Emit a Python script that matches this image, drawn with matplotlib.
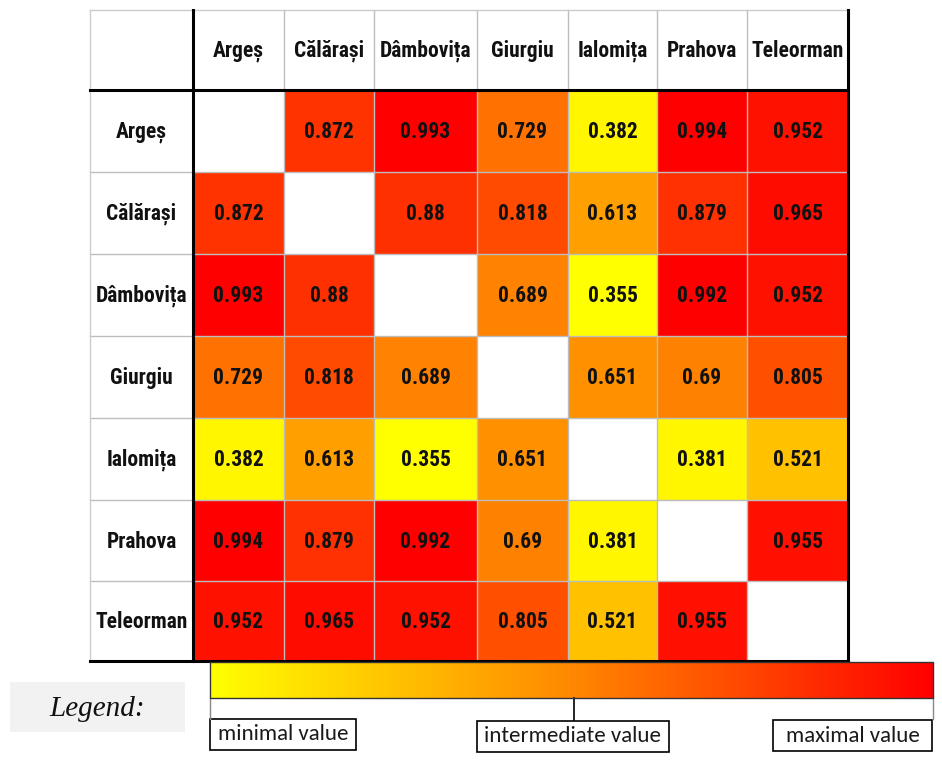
import numpy as np
import matplotlib
matplotlib.use("Agg")
import matplotlib.pyplot as plt
from matplotlib.colors import LinearSegmentedColormap
from matplotlib.patches import Rectangle

counties = ["Argeș", "Călărași", "Dâmbovița", "Giurgiu", "Ialomița", "Prahova", "Teleorman"]
corr = [
    [np.nan, 0.872, 0.993, 0.729, 0.382, 0.994, 0.952],
    [0.872, np.nan, 0.88, 0.818, 0.613, 0.879, 0.965],
    [0.993, 0.88, np.nan, 0.689, 0.355, 0.992, 0.952],
    [0.729, 0.818, 0.689, np.nan, 0.651, 0.69, 0.805],
    [0.382, 0.613, 0.355, 0.651, np.nan, 0.381, 0.521],
    [0.994, 0.879, 0.992, 0.69, 0.381, np.nan, 0.955],
    [0.952, 0.965, 0.952, 0.805, 0.521, 0.955, np.nan],
]
legend_labels = ["minimal value", "intermediate value", "maximal value"]

data = np.ma.masked_invalid(np.array(corr))

# table geometry in pixels
col_edges = np.array([193, 284, 374, 477, 568, 657, 747, 848])
row_edges = np.array([90, 172, 254, 336, 418, 500, 581, 661])
left, top = 90, 10

cmap = LinearSegmentedColormap.from_list("yr", ["#FFFF00", "#FF8800", "#FF0000"])
cmap.set_bad("white")

narrow = ["Roboto Condensed", "DejaVu Sans"]
calib = ["Carlito", "DejaVu Sans"]

fig = plt.figure(figsize=(9.42, 7.6), dpi=100)
ax = fig.add_axes([0, 0, 1, 1])
ax.set_xlim(0, 942)
ax.set_ylim(760, 0)
ax.axis("off")

ax.pcolormesh(col_edges, row_edges, data, cmap=cmap, vmin=data.min(), vmax=data.max())

# grid
grid_c = "#bdbdbd"
for x in col_edges[:-1]:
    ax.plot([x, x], [top, row_edges[-1]], color=grid_c, lw=1)
for y in row_edges[:-1]:
    ax.plot([left, col_edges[-1]], [y, y], color=grid_c, lw=1)
ax.plot([left, col_edges[-1]], [top, top], color="#cccccc", lw=1)
ax.plot([left, left], [top, row_edges[-1]], color="#cccccc", lw=1)
ax.plot([col_edges[0], col_edges[0]], [top, row_edges[-1]], color="black", lw=2.2)
ax.plot([left, col_edges[-1]], [row_edges[0], row_edges[0]], color="black", lw=2.2)
ax.plot([col_edges[-1], col_edges[-1]], [top, row_edges[-1]], color="black", lw=2.2)
ax.plot([left, col_edges[-1]], [row_edges[-1], row_edges[-1]], color="black", lw=2.2)

xc = (col_edges[:-1] + col_edges[1:]) / 2
yc = (row_edges[:-1] + row_edges[1:]) / 2
hdr_y = (top + row_edges[0]) / 2
lab_x = (left + col_edges[0]) / 2

for j, name in enumerate(counties):
    ax.text(xc[j], hdr_y + 1, name, ha="center", va="center", fontsize=15.5,
            fontweight="bold", family=narrow, color="#111111")
    ax.text(lab_x, yc[j] + 1, name, ha="center", va="center", fontsize=15.5,
            fontweight="bold", family=narrow, color="#111111")

for i in range(len(counties)):
    for j in range(len(counties)):
        v = corr[i][j]
        if np.isnan(v):
            continue
        ax.text(xc[j], yc[i] + 1, f"{v:g}", ha="center", va="center", fontsize=15.5,
                fontweight="bold", family=narrow, color="#111111")

# legend
bar_l, bar_r, bar_t, bar_b = 210, 933, 662, 698
grad = np.linspace(0, 1, 512).reshape(1, -1)
ax.imshow(grad, cmap=cmap, aspect="auto", extent=[bar_l, bar_r, bar_b, bar_t], zorder=2)
ax.add_patch(Rectangle((bar_l, bar_t), bar_r - bar_l, bar_b - bar_t, fill=False,
                       ec="#333333", lw=1, zorder=3))
ax.plot([bar_l, bar_l], [bar_b, 719], color="#888888", lw=1)
ax.plot([bar_r, bar_r], [bar_b, 719], color="#888888", lw=1)
ax.plot([574, 574], [bar_b, 720], color="black", lw=1.2)

boxes = [(210, 356, 719, 750), (477, 669, 721, 752), (773, 932, 720, 751)]
for (x0, x1, y0, y1), lab in zip(boxes, legend_labels):
    ax.add_patch(Rectangle((x0, y0), x1 - x0, y1 - y0, fc="white", ec="black", lw=1.2))
    ax.text((x0 + x1) / 2, (y0 + y1) / 2, lab, ha="center", va="center",
            fontsize=16.5, family=calib, color="#1a1a1a")

ax.add_patch(Rectangle((10, 682), 175, 50, fc="#f2f2f2", ec="none"))
ax.text(97, 709, "Legend:", ha="center", va="center", fontsize=21,
        style="italic", family=["Liberation Serif", "DejaVu Serif"], color="#111111")

fig.savefig("out.png", dpi=100)
